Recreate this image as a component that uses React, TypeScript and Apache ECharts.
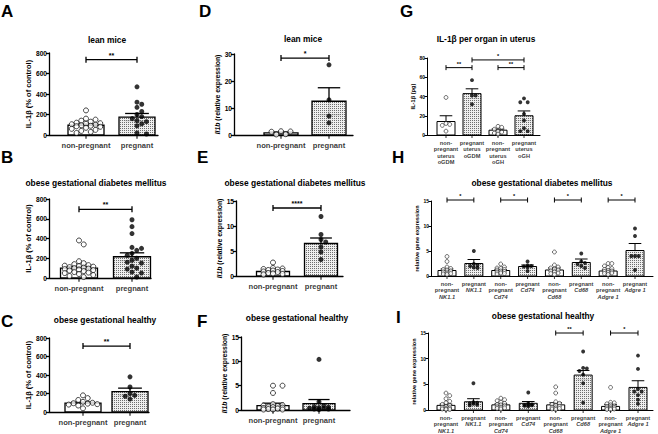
import React, { useEffect, useRef } from "react";
import * as echarts from "echarts";

const FONT = "'Liberation Sans', Arial, Helvetica, sans-serif";

// ---------------- DATA ----------------
// A – lean mice, IL-1β (% of control)
const A_CATEGORIES = ["non-pregnant", "pregnant"];
const A_Y_TICKS = [0, 200, 400, 600, 800];
const A_NONPREGNANT = [240, 160, 150, 140, 130, 120, 115, 110, 105, 100, 95, 90, 85, 80, 70, 60, 50, 40, 30, 20];
const A_PREGNANT = [470, 320, 300, 270, 230, 200, 180, 160, 140, 130, 110, 90, 20, 10];
const A_MEAN = [95, 175];
const A_SEM = [12, 35];
const A_SIG = [{ from: 0, to: 1, y: 735, stars: "**" }];

// B – obese gestational diabetes mellitus, IL-1β (% of control)
const B_CATEGORIES = ["non-pregnant", "pregnant"];
const B_Y_TICKS = [0, 200, 400, 600, 800];
const B_NONPREGNANT = [380, 340, 170, 150, 140, 130, 125, 120, 115, 110, 105, 100, 95, 90, 85, 80, 75, 70, 60, 55, 50, 40, 30, 20, 10];
const B_PREGNANT = [590, 520, 450, 310, 300, 280, 250, 230, 200, 180, 160, 150, 120, 100, 90, 60, 50, 10];
const B_MEAN = [100, 215];
const B_SEM = [15, 40];
const B_SIG = [{ from: 0, to: 1, y: 695, stars: "**" }];

// C – obese gestational healthy, IL-1β (% of control)
const C_CATEGORIES = ["non-pregnant", "pregnant"];
const C_Y_TICKS = [0, 200, 400, 600, 800];
const C_NONPREGNANT = [180, 150, 130, 110, 100, 95, 90, 85, 80, 70, 40];
const C_PREGNANT = [380, 270, 200, 180, 170, 140];
const C_MEAN = [95, 220];
const C_SEM = [12, 38];
const C_SIG = [{ from: 0, to: 1, y: 713, stars: "**" }];

// D – lean mice, Il1b relative expression
const D_CATEGORIES = ["non-pregnant", "pregnant"];
const D_Y_TICKS = [0, 10, 20, 30];
const D_NONPREGNANT = [1.4, 1.3, 1.2, 0.3, 0.2];
const D_PREGNANT = [26, 13, 7, 4.5];
const D_MEAN = [0.8, 12.5];
const D_SEM = [0.3, 5];
const D_SIG = [{ from: 0, to: 1, y: 28.5, stars: "*" }];

// E – obese gestational diabetes mellitus, Il1b relative expression
const E_CATEGORIES = ["non-pregnant", "pregnant"];
const E_Y_TICKS = [0, 5, 10, 15];
const E_NONPREGNANT = [2.7, 1.6, 1.5, 1.4, 1.3, 1.2, 1.1, 1.0, 0.9, 0.8, 0.6, 0.5, 0.4, 0.3];
const E_PREGNANT = [11.9, 8.3, 7.3, 6.8, 5.8, 4.8, 3.3];
const E_MEAN = [0.9, 6.5];
const E_SEM = [0.18, 1.1];
const E_SIG = [{ from: 0, to: 1, y: 13.6, stars: "****" }];

// F – obese gestational healthy, Il1b relative expression
const F_CATEGORIES = ["non-pregnant", "pregnant"];
const F_Y_TICKS = [0, 5, 10, 15];
const F_NONPREGNANT = [5.0, 5.0, 3.5, 1.2, 1.0, 0.9, 0.8, 0.7, 0.6, 0.5, 0.4, 0.3, 0.2, 0.1, 0.1, 0.1];
const F_PREGNANT = [10.4, 1.7, 0.9, 0.7, 0.6, 0.5, 0.4, 0.3, 0.2, 0.2, 0.1];
const F_MEAN = [0.9, 1.3];
const F_SEM = [0.5, 0.85];
const F_SIG: any[] = [];

// G – IL-1β per organ in uterus (pg)
const G_CATEGORIES = [
  "non-\npregnant\nuterus\noGDM",
  "pregnant\nuterus\noGDM",
  "non-\npregnant\nuterus\noGH",
  "pregnant\nuterus\noGH",
];
const G_Y_TICKS = [0, 20, 40, 60, 80];
const G_NONPREG_OGDM = [39, 12, 11, 10, 4];
const G_PREG_OGDM = [57, 41, 41, 32];
const G_NONPREG_OGH = [9, 8, 6, 4, 3, 2, 1];
const G_PREG_OGH = [38, 34, 34, 22, 15, 7, 4, 4];
const G_MEAN = [14, 43, 5, 20];
const G_SEM = [6, 5, 1.2, 5];
const G_SIG = [
  { from: 1, to: 3, y: 78, stars: "*" },
  { from: 0, to: 1, y: 70, stars: "**" },
  { from: 2, to: 3, y: 70, stars: "**" },
];

// H / I – relative gene expression
const GENE_CATEGORIES = [
  "{b|non-}\n{b|pregnant}\n{i|NK1.1}",
  "{b|pregnant}\n{i|NK1.1}",
  "{b|non-}\n{b|pregnant}\n{i|Cd74}",
  "{b|pregnant}\n{i|Cd74}",
  "{b|non-}\n{b|pregnant}\n{i|Cd68}",
  "{b|pregnant}\n{i|Cd68}",
  "{b|non-}\n{b|pregnant}\n{i|Adgre 1}",
  "{b|pregnant}\n{i|Adgre 1}",
];
const GENE_Y_TICKS = [0, 5, 10, 15];

// H – obese gestational diabetes mellitus
const H_NONPREG_NK = [3.9, 2.9, 1.8, 1.5, 1.3, 1.2, 1.0, 0.8, 0.6, 0.5, 0.4, 0.3];
const H_PREG_NK = [5.0, 2.4, 2.2, 2.0, 1.7, 1.6];
const H_NONPREG_CD74 = [2.4, 1.8, 1.6, 1.5, 1.3, 1.2, 1.0, 0.9, 0.8, 0.6, 0.5, 0.4];
const H_PREG_CD74 = [2.9, 2.1, 2.0, 1.9, 1.8, 1.0];
const H_NONPREG_CD68 = [4.8, 2.2, 1.8, 1.6, 1.4, 1.2, 1.0, 0.8, 0.6, 0.5, 0.3];
const H_PREG_CD68 = [4.5, 2.9, 2.6, 2.4, 2.0, 1.6];
const H_NONPREG_ADGRE1 = [2.5, 2.5, 2.0, 1.7, 1.5, 1.3, 1.1, 1.0, 0.9, 0.7, 0.6, 0.5, 0.3];
const H_PREG_ADGRE1 = [9.5, 8.0, 4.0, 4.0, 4.0, 1.2];
const H_MEAN = [1.1, 2.5, 1.1, 1.9, 1.2, 2.7, 1.0, 5.1];
const H_SEM = [0.3, 0.8, 0.15, 0.3, 0.4, 0.7, 0.2, 1.4];
const H_SIG = [
  { from: 0, to: 1, y: 15.2, stars: "*" },
  { from: 2, to: 3, y: 15.2, stars: "*" },
  { from: 4, to: 5, y: 15.2, stars: "*" },
  { from: 6, to: 7, y: 15.2, stars: "*" },
];

// I – obese gestational healthy
const I_NONPREG_NK = [3.3, 2.8, 2.2, 1.7, 1.4, 1.1, 0.9, 0.7, 0.5, 0.4, 0.3, 0.2, 0.1, 0.1];
const I_PREG_NK = [5.2, 1.5, 1.4, 1.3, 1.2, 1.0, 0.9];
const I_NONPREG_CD74 = [2.3, 2.0, 1.8, 1.5, 1.3, 1.1, 1.0, 0.8, 0.6, 0.5, 0.4, 0.3, 0.2];
const I_PREG_CD74 = [3.4, 1.3, 1.1, 1.0, 1.0, 0.9, 0.8, 0.7];
const I_NONPREG_CD68 = [4.5, 3.3, 1.6, 1.3, 1.1, 0.9, 0.7, 0.5, 0.4, 0.3, 0.2, 0.1];
const I_PREG_CD68 = [11.4, 8.2, 8.1, 7.6, 6.9, 5.2, 1.4];
const I_NONPREG_ADGRE1 = [4.4, 1.5, 1.4, 1.2, 1.0, 0.8, 0.7, 0.6, 0.5, 0.4, 0.3, 0.2, 0.1, 0.1];
const I_PREG_ADGRE1 = [10.6, 8.0, 4.1, 3.6, 3.6, 2.9, 2.0, 1.2];
const I_MEAN = [0.9, 1.6, 1.0, 1.3, 1.0, 6.8, 0.7, 4.4];
const I_SEM = [0.25, 0.6, 0.2, 0.35, 0.4, 0.9, 0.35, 1.3];
const I_SIG = [
  { from: 4, to: 5, y: 15, stars: "**" },
  { from: 6, to: 7, y: 15, stars: "*" },
];

// ---------------- LOOK (positions / sizes) ----------------
const COL12 = { dot: 5, lw: 1.3, tickFont: 6.6, nameFont: 7.5, labelFont: 7.6, labelLineH: 9, starFont: 7, tickLen: 3, nameGap: 16, labelDist: 2, capFrac: 0.33 };
const COL3 = { dot: 3.9, lw: 1, tickFont: 5, nameFont: 5.7, labelFont: 5.7, labelLineH: 6.4, starFont: 5.5, tickLen: 2.5, nameGap: 10, labelDist: 1.5, capFrac: 0.35 };

const PANELS: any[] = [
  { letter: "A", title: "lean mice", yName: "IL-1β (% of control)", yTicks: A_Y_TICKS, labels: A_CATEGORIES, groups: [A_NONPREGNANT, A_PREGNANT], mean: A_MEAN, sem: A_SEM, sig: A_SIG,
    look: { ...COL12, left: 49, right: 158, top: 53, bottom: 135, centers: [86, 137], barW: 36, titleX: 107, titleY: 40, letterX: 1, letterY: 3 } },
  { letter: "B", title: "obese gestational diabetes mellitus", yName: "IL-1β (% of control)", yTicks: B_Y_TICKS, labels: B_CATEGORIES, groups: [B_NONPREGNANT, B_PREGNANT], mean: B_MEAN, sem: B_SEM, sig: B_SIG,
    look: { ...COL12, left: 49, right: 151, top: 199, bottom: 278, centers: [79, 132], barW: 37, titleX: 96, titleY: 183, letterX: 1, letterY: 149 } },
  { letter: "C", title: "obese gestational healthy", yName: "IL-1β (% of control)", yTicks: C_Y_TICKS, labels: C_CATEGORIES, groups: [C_NONPREGNANT, C_PREGNANT], mean: C_MEAN, sem: C_SEM, sig: C_SIG,
    look: { ...COL12, left: 49, right: 149, top: 338, bottom: 412, centers: [83, 130], barW: 36, titleX: 105, titleY: 320, letterX: 1, letterY: 313 } },
  { letter: "D", title: "lean mice", yName: "{i|Il1b} (relative expression)", yTicks: D_Y_TICKS, labels: D_CATEGORIES, groups: [D_NONPREGNANT, D_PREGNANT], mean: D_MEAN, sem: D_SEM, sig: D_SIG,
    look: { ...COL12, nameFont: 6.8, nameGap: 12, left: 234, right: 353, top: 54, bottom: 135, centers: [281, 329], barW: 34, titleX: 303, titleY: 39, letterX: 199, letterY: 3 } },
  { letter: "E", title: "obese gestational diabetes mellitus", yName: "{i|Il1b} (relative expression)", yTicks: E_Y_TICKS, labels: E_CATEGORIES, groups: [E_NONPREGNANT, E_PREGNANT], mean: E_MEAN, sem: E_SEM, sig: E_SIG,
    look: { ...COL12, nameFont: 6.8, nameGap: 12, left: 236, right: 343, top: 201, bottom: 276, centers: [273, 321], barW: 33, titleX: 295, titleY: 183, letterX: 197, letterY: 149 } },
  { letter: "F", title: "obese gestational healthy", yName: "{i|Il1b} (relative expression)", yTicks: F_Y_TICKS, labels: F_CATEGORIES, groups: [F_NONPREGNANT, F_PREGNANT], mean: F_MEAN, sem: F_SEM, sig: F_SIG,
    look: { ...COL12, nameFont: 6.8, nameGap: 12, left: 241, right: 350, top: 337, bottom: 410, centers: [273, 319], barW: 32, titleX: 297, titleY: 318, letterX: 197, letterY: 313 } },
  { letter: "G", title: "IL-1β per organ in uterus", yName: "IL-1β (pg)", yTicks: G_Y_TICKS, labels: G_CATEGORIES, groups: [G_NONPREG_OGDM, G_PREG_OGDM, G_NONPREG_OGH, G_PREG_OGH], mean: G_MEAN, sem: G_SEM, sig: G_SIG,
    look: { ...COL3, left: 427, right: 540, top: 58, bottom: 135, centers: [446, 472, 497, 524], barW: 18, titleX: 486, titleY: 39, letterX: 400, letterY: 3 } },
  { letter: "H", title: "obese gestational diabetes mellitus", yName: "relative gene expression", yTicks: GENE_Y_TICKS, labels: GENE_CATEGORIES, groups: [H_NONPREG_NK, H_PREG_NK, H_NONPREG_CD74, H_PREG_CD74, H_NONPREG_CD68, H_PREG_CD68, H_NONPREG_ADGRE1, H_PREG_ADGRE1], mean: H_MEAN, sem: H_SEM, sig: H_SIG,
    look: { ...COL3, left: 431, right: 653, top: 201, bottom: 276, centers: [447, 474, 501, 527, 555, 581, 608, 635], barW: 18, titleX: 542, titleY: 183, letterX: 392, letterY: 149 } },
  { letter: "I", title: "obese gestational healthy", yName: "relative gene expression", yTicks: GENE_Y_TICKS, labels: GENE_CATEGORIES, groups: [I_NONPREG_NK, I_PREG_NK, I_NONPREG_CD74, I_PREG_CD74, I_NONPREG_CD68, I_PREG_CD68, I_NONPREG_ADGRE1, I_PREG_ADGRE1], mean: I_MEAN, sem: I_SEM, sig: I_SIG,
    look: { ...COL3, left: 428, right: 653, top: 333, bottom: 410, centers: [446, 474, 502, 529, 556, 583, 611, 638], barW: 18, titleX: 543, titleY: 316, letterX: 396, letterY: 309 } },
];

// deterministic beeswarm-like horizontal spread (in px)
function spread(values: number[], yMax: number, plotH: number, dot: number, maxOff: number) {
  const placed: { dx: number; y: number }[] = [];
  const out: number[] = [];
  const step = dot * 0.95;
  for (const v of values) {
    const ypx = (v / yMax) * plotH;
    const cands = [0];
    for (let k = 1; k * step <= maxOff; k++) cands.push(k * step, -k * step);
    let best = 0;
    let bestScore = Infinity;
    for (const c of cands) {
      let coll = 0;
      for (const p of placed) {
        const d = Math.hypot(c - p.dx, ypx - p.y);
        if (d < dot) coll += dot - d;
      }
      if (coll < bestScore - 1e-9) {
        bestScore = coll;
        best = c;
      }
      if (coll === 0) break;
    }
    placed.push({ dx: best, y: ypx });
    out.push(best);
  }
  return out;
}

function makeStipple(): any {
  try {
    const c = document.createElement("canvas");
    c.width = 2;
    c.height = 2;
    const ctx = c.getContext("2d");
    if (!ctx) return "rgba(165,165,165,0.5)";
    ctx.fillStyle = "rgba(236,236,236,0.85)";
    ctx.fillRect(0, 0, 2, 2);
    ctx.fillStyle = "#6e6e6e";
    ctx.fillRect(0, 0, 1, 1);
    return { image: c, repeat: "repeat", imageWidth: 2, imageHeight: 2 };
  } catch (e) {
    return "rgba(165,165,165,0.5)";
  }
}

function buildOption() {
  const grid: any[] = [];
  const xAxis: any[] = [];
  const yAxis: any[] = [];
  const series: any[] = [];
  const graphic: any[] = [];
  const stipple = makeStipple();

  PANELS.forEach((p, i) => {
    const L = p.look;
    const n = p.groups.length;
    const c0 = L.centers[0];
    const cn = L.centers[n - 1];
    const s = (cn - c0) / (n - 1);
    const xmin = 1 - (c0 - L.left) / s;
    const xmax = n + (L.right - cn) / s;
    const yMax = p.yTicks[p.yTicks.length - 1];
    const interval = p.yTicks[1] - p.yTicks[0];
    const plotH = L.bottom - L.top;

    grid.push({ left: L.left, top: L.top, width: L.right - L.left, height: plotH, containLabel: false });
    xAxis.push({
      type: "value", gridIndex: i, min: xmin, max: xmax,
      axisLine: { show: true, onZero: false, lineStyle: { color: "#000", width: L.lw } },
      axisTick: { show: false }, axisLabel: { show: false }, splitLine: { show: false },
    });
    yAxis.push({
      type: "value", gridIndex: i, min: 0, max: yMax, interval,
      name: p.yName, nameLocation: "middle", nameGap: L.nameGap,
      nameTextStyle: {
        fontSize: L.nameFont, fontWeight: "bold", color: "#000", fontFamily: FONT,
        rich: { i: { fontSize: L.nameFont, fontWeight: "bold", fontStyle: "italic", color: "#000", fontFamily: FONT } },
      },
      axisLine: { show: true, lineStyle: { color: "#000", width: L.lw } },
      axisTick: { show: true, length: L.tickLen, lineStyle: { color: "#000", width: L.lw } },
      axisLabel: { fontSize: L.tickFont, fontWeight: "bold", color: "#000", margin: 2, fontFamily: FONT },
      splitLine: { show: false },
    });

    const capHalf = L.barW * L.capFrac;

    // lower whiskers (behind bars)
    series.push({
      type: "custom", xAxisIndex: i, yAxisIndex: i, z: 1, silent: true,
      data: p.mean.map((m: number, k: number) => [k + 1, m, p.sem[k]]),
      encode: { x: 0, y: 1 },
      renderItem: (_params: any, api: any) => {
        const x = api.value(0), m = api.value(1), e = api.value(2);
        const a = api.coord([x, m]);
        const b = api.coord([x, Math.max(0, m - e)]);
        const st = { stroke: "#000", lineWidth: L.lw };
        return {
          type: "group",
          children: [
            { type: "line", shape: { x1: a[0], y1: a[1], x2: b[0], y2: b[1] }, style: st },
            { type: "line", shape: { x1: b[0] - capHalf, y1: b[1], x2: b[0] + capHalf, y2: b[1] }, style: st },
          ],
        };
      },
    });

    // bars
    series.push({
      type: "custom", xAxisIndex: i, yAxisIndex: i, z: 2, silent: true,
      data: p.mean.map((m: number, k: number) => [k + 1, m]),
      encode: { x: 0, y: 1 },
      renderItem: (params: any, api: any) => {
        const k = params.dataIndex;
        const top = api.coord([api.value(0), api.value(1)]);
        const base = api.coord([api.value(0), 0]);
        return {
          type: "rect",
          shape: { x: top[0] - L.barW / 2, y: top[1], width: L.barW, height: base[1] - top[1] },
          style: { fill: k % 2 === 1 ? stipple : "#fff", stroke: "#000", lineWidth: L.lw },
        };
      },
    });

    // upper whiskers
    series.push({
      type: "custom", xAxisIndex: i, yAxisIndex: i, z: 3, silent: true,
      data: p.mean.map((m: number, k: number) => [k + 1, m, p.sem[k]]),
      encode: { x: 0, y: 1 },
      renderItem: (_params: any, api: any) => {
        const x = api.value(0), m = api.value(1), e = api.value(2);
        const a = api.coord([x, m]);
        const b = api.coord([x, m + e]);
        const st = { stroke: "#000", lineWidth: L.lw };
        return {
          type: "group",
          children: [
            { type: "line", shape: { x1: a[0], y1: a[1], x2: b[0], y2: b[1] }, style: st },
            { type: "line", shape: { x1: b[0] - capHalf, y1: b[1], x2: b[0] + capHalf, y2: b[1] }, style: st },
          ],
        };
      },
    });

    // dots
    const openPts: number[][] = [];
    const filledPts: number[][] = [];
    p.groups.forEach((vals: number[], k: number) => {
      const offs = spread(vals, yMax, plotH, L.dot, L.barW / 2 - L.dot / 2);
      vals.forEach((v, j) => {
        const pt = [k + 1 + offs[j] / s, v];
        if (k % 2 === 1) filledPts.push(pt);
        else openPts.push(pt);
      });
    });
    series.push({
      type: "scatter", xAxisIndex: i, yAxisIndex: i, z: 4, silent: true, clip: false,
      symbol: "circle", symbolSize: L.dot,
      itemStyle: { color: "#fff", borderColor: "#000", borderWidth: L.lw * 0.7 },
      data: openPts,
    });
    series.push({
      type: "scatter", xAxisIndex: i, yAxisIndex: i, z: 4, silent: true, clip: false,
      symbol: "circle", symbolSize: L.dot,
      itemStyle: { color: "#000" },
      data: filledPts,
    });

    // significance brackets
    if (p.sig.length) {
      series.push({
        type: "custom", xAxisIndex: i, yAxisIndex: i, z: 5, silent: true, clip: false,
        data: p.sig.map((g: any) => [g.from + 1, g.to + 1, g.y]),
        encode: { x: [0, 1], y: 2 },
        renderItem: (params: any, api: any) => {
          const g = p.sig[params.dataIndex];
          const a = api.coord([api.value(0), api.value(2)]);
          const b = api.coord([api.value(1), api.value(2)]);
          const st = { stroke: "#000", lineWidth: L.lw };
          const h = L.tickLen;
          return {
            type: "group",
            children: [
              { type: "line", shape: { x1: a[0], y1: a[1], x2: b[0], y2: b[1] }, style: st },
              { type: "line", shape: { x1: a[0], y1: a[1] - h, x2: a[0], y2: a[1] + h }, style: st },
              { type: "line", shape: { x1: b[0], y1: b[1] - h, x2: b[0], y2: b[1] + h }, style: st },
              {
                type: "text",
                style: {
                  text: g.stars, x: (a[0] + b[0]) / 2, y: a[1] - 1,
                  align: "center", verticalAlign: "bottom", textAlign: "center", textVerticalAlign: "bottom",
                  fontSize: L.starFont, fontWeight: "bold", fontFamily: FONT, fill: "#000",
                },
              },
            ],
          };
        },
      });
    }

    // category ticks + labels
    series.push({
      type: "scatter", xAxisIndex: i, yAxisIndex: i, z: 5, silent: true, clip: false,
      symbol: "rect", symbolSize: [L.lw, L.tickLen], symbolOffset: [0, L.tickLen / 2 + L.lw / 2],
      itemStyle: { color: "#000" },
      data: p.labels.map((_l: string, k: number) => [k + 1, 0]),
      label: {
        show: true, position: "bottom", distance: L.labelDist,
        formatter: (pr: any) => p.labels[pr.dataIndex],
        color: "#000", fontSize: L.labelFont, fontWeight: "bold", fontFamily: FONT,
        lineHeight: L.labelLineH, align: "center",
        rich: {
          b: { fontSize: L.labelFont, fontWeight: "bold", fontFamily: FONT, color: "#000", lineHeight: L.labelLineH },
          i: { fontSize: L.labelFont, fontWeight: "bold", fontStyle: "italic", fontFamily: FONT, color: "#000", lineHeight: L.labelLineH },
        },
      },
    });

    // title and panel letter
    graphic.push({
      type: "text", x: L.titleX, y: L.titleY, silent: true,
      style: {
        text: p.title, fill: "#000", font: `bold 8.4px ${FONT}`,
        align: "center", verticalAlign: "middle", textAlign: "center", textVerticalAlign: "middle",
      },
    });
    graphic.push({
      type: "text", x: L.letterX, y: L.letterY, silent: true,
      style: {
        text: p.letter, fill: "#000", font: `bold 17px ${FONT}`,
        align: "left", verticalAlign: "top", textAlign: "left", textVerticalAlign: "top",
      },
    });
  });

  return {
    animation: false,
    backgroundColor: "#fff",
    textStyle: { fontFamily: FONT },
    grid, xAxis, yAxis, series, graphic,
  };
}

export default function App() {
  const ref = useRef<HTMLDivElement>(null);
  useEffect(() => {
    if (!ref.current) return;
    const chart = echarts.init(ref.current, undefined, { renderer: "svg" });
    chart.setOption(buildOption() as any);
    return () => chart.dispose();
  }, []);
  return (
    <div
      ref={ref}
      style={{ position: "absolute", left: 0, top: 0, width: 658, height: 434, background: "#fff" }}
    />
  );
}
